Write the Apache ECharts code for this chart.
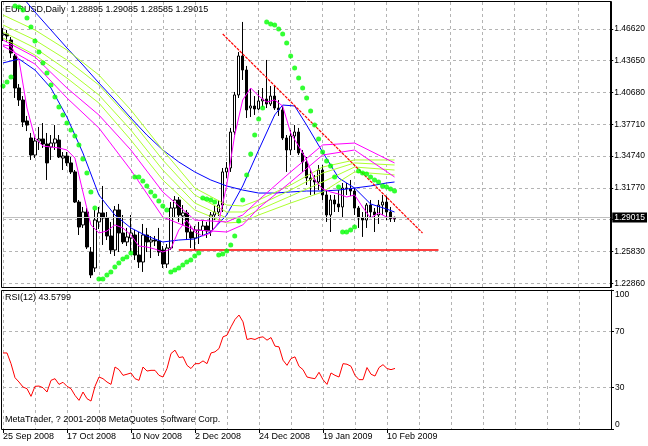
<!DOCTYPE html>
<html><head><meta charset="utf-8">
<script src="https://cdn.jsdelivr.net/npm/echarts@6/dist/echarts.min.js"></script>
<style>html,body{margin:0;padding:0;background:#fff}#c{width:648px;height:446px}</style>
</head><body><div id="c"></div>
<script>
// ---- dates (trading days) ----
const monthDays = [
  ['Sep 2008', [25,26,29,30]],
  ['Oct 2008', [1,2,3,6,7,8,9,10,13,14,15,16,17,20,21,22,23,24,27,28,29,30,31]],
  ['Nov 2008', [3,4,5,6,7,10,11,12,13,14,17,18,19,20,21,24,25,26,27,28]],
  ['Dec 2008', [1,2,3,4,5,8,9,10,11,12,15,16,17,18,19,22,23,24,26,29,30,31]],
  ['Jan 2009', [2,5,6,7,8,9,12,13,14,15,16,19,20,21,22,23,26,27,28,29,30]],
  ['Feb 2009', [2,3,4,5,6,9,10,11,12]]
];
const dates = [];
monthDays.forEach(([m, ds]) => ds.forEach(d => dates.push(d + ' ' + m)));

// ---- EURUSD daily OHLC ----
const open = [
1.4605,1.4614,1.4558,1.4409,1.4110,1.3998,1.3802,1.3643,1.3484,1.3615,
1.3634,1.3587,1.3559,1.3596,1.3624,1.3456,1.3475,1.3410,1.3326,1.3045,
1.2831,1.2952,1.2578,1.2429,1.2859,1.2943,1.2896,1.2728,1.2597,1.2971,
1.2756,1.2672,1.2709,1.2737,1.2550,1.2485,1.2737,1.2672,1.2690,1.2681,
1.2597,1.2466,1.2616,1.2989,1.3064,1.2915,1.2943,1.2765,1.2709,1.2784,
1.2779,1.2821,1.2775,1.2924,1.2952,1.3017,1.3326,1.3363,1.3699,1.4045,
1.4409,1.4278,1.3923,1.3942,1.3914,1.3989,1.4007,1.3961,1.4035,1.3923,
1.3905,1.3643,1.3531,1.3662,1.3699,1.3503,1.3419,1.3270,1.3251,1.3232,
1.3344,1.3111,1.2924,1.3064,1.3027,1.2999,1.3176,1.3171,1.3148,1.2989,
1.2896,1.2877,1.3017,1.2952,1.2924,1.3017,1.3045,1.2952,1.28895];
const close = [
1.4614,1.4596,1.4437,1.4110,1.3998,1.3792,1.3764,1.3484,1.3615,1.3634,
1.3587,1.3410,1.3596,1.3634,1.3466,1.3475,1.3410,1.3326,1.3045,1.2812,
1.2952,1.2625,1.2364,1.2877,1.2943,1.2896,1.2728,1.2597,1.2971,1.2756,
1.2672,1.2719,1.2756,1.2550,1.2485,1.2737,1.2672,1.2690,1.2681,1.2578,
1.2466,1.2616,1.2989,1.3064,1.2924,1.2943,1.2765,1.2709,1.2784,1.2779,
1.2821,1.2775,1.2924,1.2952,1.3017,1.3326,1.3363,1.3699,1.4045,1.4409,
1.4278,1.3905,1.3942,1.3914,1.3989,1.4007,1.3961,1.4035,1.3923,1.3905,
1.3643,1.3531,1.3662,1.3699,1.3503,1.3419,1.3270,1.3251,1.3232,1.3344,
1.3111,1.2924,1.3064,1.3027,1.2999,1.3176,1.3171,1.3148,1.2989,1.2896,
1.2877,1.3017,1.2952,1.2924,1.3017,1.3045,1.2952,1.2890,1.29015];
const high = [
1.4670,1.4652,1.4586,1.4428,1.4147,1.4035,1.3849,1.3690,1.3662,1.3746,
1.3783,1.3690,1.3671,1.3764,1.3671,1.3512,1.3512,1.3466,1.3344,1.3064,
1.2999,1.2989,1.2625,1.2971,1.2999,1.3195,1.2952,1.2859,1.3008,1.3027,
1.2924,1.2803,1.2924,1.2784,1.2765,1.2840,1.2803,1.2728,1.2728,1.2803,
1.2634,1.2653,1.3045,1.3101,1.3092,1.3017,1.2971,1.2821,1.2821,1.2859,
1.2877,1.2859,1.2952,1.3017,1.3064,1.3363,1.3419,1.3737,1.4073,1.4446,
1.4727,1.4316,1.4110,1.4035,1.4091,1.4110,1.4372,1.4129,1.4138,1.3998,
1.3942,1.3671,1.3718,1.3764,1.3737,1.3531,1.3466,1.3344,1.3298,1.3391,
1.3391,1.3157,1.3111,1.3111,1.3157,1.3223,1.3223,1.3251,1.3176,1.3008,
1.2952,1.3036,1.3064,1.2989,1.3064,1.3111,1.3101,1.2999,1.29085];
const low = [
1.4549,1.4540,1.4390,1.4017,1.3942,1.3746,1.3708,1.3438,1.3456,1.3531,
1.3550,1.3251,1.3438,1.3531,1.3456,1.3344,1.3382,1.3307,1.3036,1.2737,
1.2803,1.2606,1.2335,1.2392,1.2793,1.2644,1.2690,1.2560,1.2541,1.2578,
1.2653,1.2634,1.2578,1.2504,1.2429,1.2392,1.2578,1.2522,1.2634,1.2541,
1.2429,1.2429,1.2597,1.2896,1.2859,1.2831,1.2690,1.2616,1.2597,1.2653,
1.2728,1.2709,1.2728,1.2877,1.2915,1.2952,1.3270,1.3326,1.3671,1.4017,
1.4185,1.3830,1.3839,1.3858,1.3905,1.3933,1.3923,1.3942,1.3905,1.3849,
1.3624,1.3326,1.3484,1.3531,1.3484,1.3326,1.3204,1.3111,1.3111,1.3157,
1.3064,1.2859,1.2765,1.2952,1.2952,1.2896,1.3111,1.3101,1.2924,1.2803,
1.2719,1.2803,1.2896,1.2765,1.2840,1.2924,1.2877,1.2859,1.28585];

// ---- Parabolic SAR ----
const sar = [
1.4129,1.4166,1.4213,1.4876,1.4867,1.4839,1.4764,1.4680,1.4549,1.4446,
1.4344,1.4250,1.4138,1.4026,1.3933,1.3858,1.3783,1.3718,1.3662,1.3578,
1.3447,1.3316,1.3139,1.2989,1.2326,1.2326,1.2364,1.2392,1.2438,1.2476,
1.2513,1.2532,1.2569,1.3279,1.3279,1.3241,1.3195,1.3139,1.3101,1.3055,
1.3008,1.2971,1.2392,1.2410,1.2429,1.2457,1.2485,1.2504,1.2541,1.2569,
1.3083,1.3073,1.3064,1.3045,1.2550,1.2560,1.2588,1.2644,1.2728,1.2868,
1.3064,1.3298,1.3494,1.3671,1.3821,1.3923,1.4727,1.4708,1.4699,1.4661,
1.4614,1.4530,1.4409,1.4297,1.4204,1.4110,1.4017,1.3895,1.3764,1.3634,
1.3512,1.3428,1.3382,1.3279,1.3185,1.2765,1.2765,1.2784,1.2812,1.3335,
1.3316,1.3307,1.3279,1.3251,1.3232,1.3195,1.3185,1.3167,1.3148];

// ---- RSI(12) ----
const rsi = [
54.7,54.7,47.0,36.9,33.8,30.2,29.0,23.5,30.7,30.9,
29.7,26.6,35.0,36.2,32.1,33.6,30.7,29.0,24.2,20.6,
26.6,21.8,20.1,30.7,37.4,36.2,33.8,32.1,44.6,42.7,
38.6,39.4,40.3,36.2,35.0,44.6,41.7,42.2,42.2,38.6,
37.4,43.5,54.3,56.7,51.4,51.9,45.8,43.5,47.0,47.0,
49.0,47.0,54.7,55.5,57.9,66.3,67.5,73.5,78.8,82.0,
77.1,64.4,65.1,64.4,65.8,66.3,63.9,65.8,59.6,59.1,
49.5,45.8,50.7,51.9,45.1,42.7,37.4,36.7,36.2,40.8,
35.5,32.1,40.3,38.6,37.4,47.0,46.6,45.1,38.6,35.5,
35.5,44.2,39.4,38.1,44.2,46.3,43.5,42.7,43.58];

// ---- moving averages (read at sample bars) ----
const blueSlowIdx = [0,4,8,12,16,20,24,28,32,36,40,44,48,52,56,60,64,68,72,76,80,84,88,92,96,98];
const blueSlow = [1.5166,1.4997,1.4820,1.4652,1.4484,1.4325,1.4157,1.3998,1.3830,1.3671,1.3531,1.3419,1.3326,1.3251,1.3195,1.3157,1.3129,1.3129,1.3139,1.3148,1.3148,1.3157,1.3176,1.3195,1.3223,1.3232];
const blueFastIdx = [0,4,8,12,16,20,24,28,32,36,40,44,48,52,56,60,64,68,70,73,76,80,84,88,92,96,98];
const blueFast = [1.4344,1.4381,1.4278,1.4110,1.3839,1.3503,1.3111,1.2924,1.2803,1.2728,1.2672,1.2690,1.2700,1.2765,1.2924,1.3195,1.3531,1.3858,1.3951,1.3942,1.3764,1.3512,1.3270,1.3176,1.3027,1.2980,1.2952];
const magFastIdx = [0,2,4,6,8,10,12,14,16,18,20,22,24,26,28,30,32,34,36,38,40,42,44,46,48,50,52,54,56,58,60,62,64,66,68,70,72,74,76,78,80,82,84,86,88,90,92,94,96,98];
const magFast = [
1.4512,1.4502,1.4372,1.3923,1.3643,1.3568,1.3559,1.3550,1.3531,1.3456,
1.3139,1.2831,1.2756,1.2774,1.2831,1.2803,1.2737,1.2634,1.2625,1.2606,
1.2578,1.2606,1.2784,1.2877,1.2765,1.2728,1.2756,1.2859,1.3204,1.3671,
1.3998,1.4110,1.4035,1.3979,1.3998,1.3942,1.3690,1.3568,1.3438,1.3251,
1.3167,1.3139,1.3120,1.3092,1.3111,1.2999,1.2896,1.2943,1.2905,1.2896];
const slowIdx = [0,8,16,24,32,40,48,56,60,64,72,80,88,98];
const lime1 = [1.4792,1.4652,1.4465,1.4232,1.3905,1.3531,1.3176,1.3017,1.3008,1.3064,1.3204,1.3372,1.3438,1.3438];
const lime2 = [1.4699,1.4558,1.4372,1.4138,1.3811,1.3438,1.3111,1.2952,1.2952,1.3017,1.3157,1.3316,1.3410,1.3391];
const lime3 = [1.4633,1.4484,1.4278,1.4045,1.3718,1.3344,1.3036,1.2896,1.2896,1.2971,1.3101,1.3232,1.3372,1.3344];
const lime4 = [1.4577,1.4418,1.4203,1.3970,1.3624,1.3251,1.2971,1.2849,1.2859,1.2924,1.3036,1.3139,1.3326,1.3298];
const mag1 = [1.4558,1.4400,1.4110,1.3858,1.3531,1.3139,1.2877,1.2859,1.2924,1.3064,1.3326,1.3578,1.3596,1.3410];
const mag2 = [1.4502,1.4334,1.4017,1.3737,1.3344,1.2905,1.2784,1.2765,1.2831,1.2989,1.3232,1.3484,1.3531,1.3279];

// ---- drawn objects ----
const trendIdx = [55, 105], trendVal = [1.4614, 1.2756];
const levelIdx = [44, 109], levelVal = [1.2597, 1.2597];
const lastPrice = 1.29015;

// ---- axis ticks ----
const priceTicks = [1.22860,1.25830,1.28800,1.31770,1.34740,1.37710,1.40680,1.43650,1.46620];
const rsiTicks = [0,30,70,100];

const N = 153;
const cats = dates.concat(new Array(N - dates.length).fill(''));
const candles = dates.map((d, i) => [open[i], close[i], low[i], high[i]]);
const pairs = (idx, vals) => idx.map((x, k) => [x, vals[k]]);

const FONT = '"Liberation Sans", Arial, sans-serif';
const GRID = '#b4b4b4';
const labelEvery = (i, v) => v !== '' && i % 16 === 0;
const splitEvery = (i) => i % 8 === 0;
const dash = [3, 3];

function maLine(name, idx, vals, color) {
  return { name, type: 'line', xAxisIndex: 0, yAxisIndex: 0, data: pairs(idx, vals),
    symbol: 'none', smooth: false, z: 3, silent: true,
    lineStyle: { color, width: 1 } };
}

const chart = echarts.init(document.getElementById('c'), null, { renderer: 'canvas' });
chart.setOption({
  animation: false,
  backgroundColor: '#fff',
  grid: [
    { left: 3, width: 608, top: 2, height: 285 },
    { left: 3, width: 608, top: 290, height: 139 }
  ],
  xAxis: [
    { type: 'category', gridIndex: 0, data: cats, boundaryGap: false,
      axisLine: { show: false }, axisTick: { show: false }, axisLabel: { show: false },
      splitLine: { show: true, interval: splitEvery, lineStyle: { color: GRID, type: dash } } },
    { type: 'category', gridIndex: 1, data: cats, boundaryGap: false,
      axisLine: { show: true, lineStyle: { color: '#000' } },
      axisTick: { show: true, interval: labelEvery, length: 4, lineStyle: { color: '#000' } },
      axisLabel: { show: true, interval: labelEvery, align: 'left', margin: 3, color: '#000', fontSize: 9, fontFamily: FONT },
      splitLine: { show: true, interval: splitEvery, lineStyle: { color: GRID, type: dash } } }
  ],
  yAxis: [
    { type: 'value', gridIndex: 0, position: 'right', min: 1.22514, max: 1.49133,
      axisLine: { show: true, lineStyle: { color: '#000' } },
      axisTick: { show: true, customValues: priceTicks, length: 3, lineStyle: { color: '#000' } },
      axisLabel: { show: true, customValues: priceTicks, margin: 4, color: '#000', fontSize: 8.5, fontFamily: FONT,
        formatter: v => Number(v).toFixed(5) },
      splitLine: { show: true, lineStyle: { color: GRID, type: dash } } },
    { type: 'value', gridIndex: 1, position: 'right', min: 0, max: 100,
      axisLine: { show: true, lineStyle: { color: '#000' } },
      axisTick: { show: true, customValues: rsiTicks, length: 3, lineStyle: { color: '#000' } },
      axisLabel: { show: true, customValues: rsiTicks, margin: 4, color: '#000', fontSize: 8.5, fontFamily: FONT,
        formatter: v => v === 100 ? '{d|100}' : (v === 0 ? '{u|0}' : String(v)),
        rich: { d: { padding: [9, 0, 0, 0], fontSize: 8.5, fontFamily: FONT, color: '#000' },
                u: { padding: [0, 0, 9, 0], fontSize: 8.5, fontFamily: FONT, color: '#000' } } },
      splitLine: { show: true, lineStyle: { color: GRID, type: dash } } }
  ],
  series: [
    { name: 'EURUSD', type: 'candlestick', xAxisIndex: 0, yAxisIndex: 0, data: candles,
      barWidth: 3, z: 2, silent: true,
      itemStyle: { color: '#fff', color0: '#000', borderColor: '#000', borderColor0: '#000', borderWidth: 1 },
      markLine: { silent: true, symbol: 'none', animation: false,
        lineStyle: { color: '#c0c0c0', type: 'solid', width: 1 },
        label: { show: true, position: 'end', distance: 2, color: '#fff', backgroundColor: '#000',
          padding: [1, 2, 0, 2], fontSize: 8.5, fontFamily: FONT, formatter: () => lastPrice.toFixed(5) },
        data: [{ yAxis: lastPrice }] } },
    maLine('MA slow blue', blueSlowIdx, blueSlow, '#0000ff'),
    maLine('MA fast blue', blueFastIdx, blueFast, '#0000ff'),
    maLine('lime 1', slowIdx, lime1, '#adff2f'),
    maLine('lime 2', slowIdx, lime2, '#adff2f'),
    maLine('lime 3', slowIdx, lime3, '#adff2f'),
    maLine('lime 4', slowIdx, lime4, '#adff2f'),
    maLine('magenta 1', slowIdx, mag1, '#ff00ff'),
    maLine('magenta 2', slowIdx, mag2, '#ff00ff'),
    maLine('magenta fast', magFastIdx, magFast, '#ff00ff'),
    { name: 'SAR', type: 'scatter', xAxisIndex: 0, yAxisIndex: 0, data: sar.map((v, i) => [i, v]),
      symbol: 'circle', symbolSize: 5, z: 5, silent: true, itemStyle: { color: '#00ff00' } },
    { name: 'trend', type: 'line', xAxisIndex: 0, yAxisIndex: 0, data: pairs(trendIdx, trendVal),
      symbol: 'none', z: 4, silent: true, lineStyle: { color: '#ff0000', width: 1.2, type: [3, 1] } },
    { name: 'level', type: 'line', xAxisIndex: 0, yAxisIndex: 0, data: pairs(levelIdx, levelVal),
      symbol: 'none', z: 4, silent: true, lineStyle: { color: '#ff0000', width: 1.5 } },
    { name: 'RSI(12)', type: 'line', xAxisIndex: 1, yAxisIndex: 1, data: rsi,
      symbol: 'none', z: 3, silent: true, lineStyle: { color: '#ff0000', width: 1 } }
  ],
  graphic: [
    { type: 'rect', z: 100, silent: true, shape: { x: 1.5, y: 1.5, width: 610, height: 286 },
      style: { fill: 'none', stroke: '#000', lineWidth: 1 } },
    { type: 'rect', z: 100, silent: true, shape: { x: 1.5, y: 290.5, width: 610, height: 139 },
      style: { fill: 'none', stroke: '#000', lineWidth: 1 } },
    { type: 'text', z: 1, silent: true, left: 5, top: 5,
      style: { text: 'EURUSD,Daily  1.28895 1.29085 1.28585 1.29015', font: '9px ' + FONT, fill: '#000' } },
    { type: 'text', z: 1, silent: true, left: 5, top: 293,
      style: { text: 'RSI(12) 43.5799', font: '9px ' + FONT, fill: '#000' } },
    { type: 'text', z: 1, silent: true, left: 5, top: 415,
      style: { text: 'MetaTrader, ? 2001-2008 MetaQuotes Software Corp.', font: '9px ' + FONT, fill: '#000' } }
  ]
});
</script></body></html>
